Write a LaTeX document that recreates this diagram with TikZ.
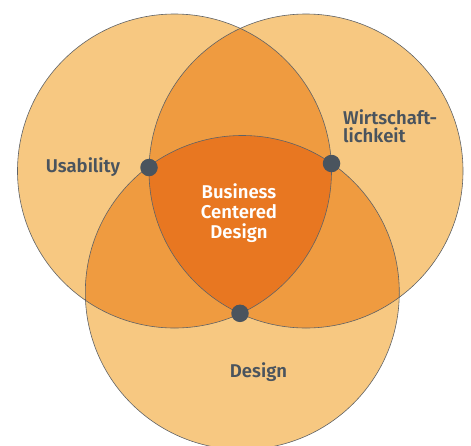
\documentclass[tikz,border=0pt]{standalone}
\usepackage{fontspec}
\setmainfont{Fira Sans}[BoldFont={Fira Sans SemiBold}]
\definecolor{light}{RGB}{247,200,129}
\definecolor{mid}{RGB}{239,155,64}
\definecolor{dark}{RGB}{232,119,33}
\definecolor{ink}{RGB}{74,84,94}
\definecolor{edge}{RGB}{95,98,102}
\tikzset{
  ring/.style={draw=edge, line width=0.6pt},
  dot/.style={circle, fill=ink, inner sep=0pt, minimum size=17.5pt},
  lbl/.style={text=ink, font=\fontsize{18.5}{18}\selectfont\bfseries, inner sep=0pt},
  core/.style={text=white, font=\fontsize{18.5}{20}\selectfont\bfseries, inner sep=0pt, align=center},
}
\begin{document}
\begin{tikzpicture}[x=1pt,y=-1pt]
\useasboundingbox (0,0) rectangle (471,445);
\coordinate (L) at (174.5,171);
\coordinate (R) at (306,171);
\coordinate (B) at (242.3,292.5);
\def\rr{157pt}
\fill[light] (L) circle[radius=\rr];
\fill[light] (R) circle[radius=\rr];
\fill[light] (B) circle[radius=\rr];
\begin{scope}
  \clip (L) circle[radius=\rr];
  \fill[mid] (R) circle[radius=\rr];
  \fill[mid] (B) circle[radius=\rr];
\end{scope}
\begin{scope}
  \clip (R) circle[radius=\rr];
  \fill[mid] (B) circle[radius=\rr];
\end{scope}
\begin{scope}
  \clip (L) circle[radius=\rr];
  \clip (R) circle[radius=\rr];
  \fill[dark] (B) circle[radius=\rr];
\end{scope}
\draw[ring] (L) circle[radius=\rr];
\draw[ring] (R) circle[radius=\rr];
\draw[ring] (B) circle[radius=\rr];
\node[dot] (d1) at (149,167.5) {};
\node[dot] (d2) at (331.5,163.5) {};
\node[dot] (d3) at (240,313.3) {};
\node[lbl] (usab) at (83,167) {Usability};
\node[lbl, anchor=west, align=left] (wirt) at (343,126) {Wirtschaft-\\lichkeit};
\node[lbl] (des) at (258.5,372.5) {Design};
\node[core] (bcd) at (239,213) {Business\\Centered\\Design};
\end{tikzpicture}
\end{document}
